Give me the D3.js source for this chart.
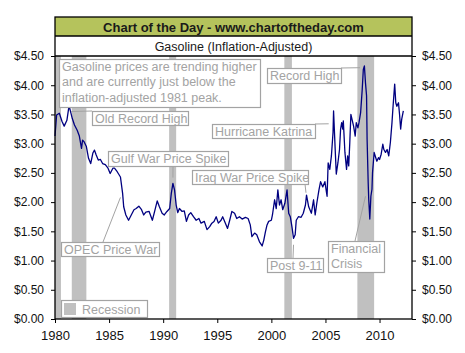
<!DOCTYPE html>
<html>
<head>
<meta charset="utf-8">
<script src="https://cdn.jsdelivr.net/npm/d3@7"></script>
<style>
  body { margin: 0; background: #fff; }
  svg { display: block; font-family: Arial, "Liberation Sans", sans-serif; }
</style>
</head>
<body>
<svg id="chart" width="465" height="353"></svg>
<script>
const years = [
  1980.0, 1980.15, 1980.4, 1980.65, 1980.85, 1981.1, 1981.3, 1981.6, 1981.8, 1982.05,
  1982.25, 1982.45, 1982.55, 1982.7, 1982.9, 1983.1, 1983.3, 1983.5, 1983.65, 1983.8,
  1984.0, 1984.2, 1984.4, 1984.65, 1984.9, 1985.1, 1985.35, 1985.5, 1985.75, 1986.05,
  1986.25, 1986.35, 1986.55, 1986.8, 1987.05, 1987.3, 1987.5, 1987.75, 1988.0, 1988.2,
  1988.4, 1988.7, 1989.0, 1989.25, 1989.45, 1989.65, 1989.9, 1990.1, 1990.35, 1990.6,
  1990.75, 1990.9, 1991.05, 1991.2, 1991.35, 1991.5, 1991.75, 1991.95, 1992.15, 1992.35,
  1992.55, 1992.8, 1993.05, 1993.3, 1993.5, 1993.8, 1994.05, 1994.3, 1994.5, 1994.7,
  1994.9, 1995.1, 1995.35, 1995.5, 1995.75, 1995.95, 1996.15, 1996.35, 1996.6, 1996.8,
  1997.05, 1997.3, 1997.6, 1997.85, 1998.05, 1998.2, 1998.45, 1998.65, 1998.9, 1999.15,
  1999.3, 1999.45, 1999.6, 1999.75, 2000.0, 2000.1, 2000.3, 2000.45, 2000.6, 2000.75,
  2000.9, 2001.05, 2001.25, 2001.45, 2001.6, 2001.75, 2001.9, 2002.05, 2002.2, 2002.3,
  2002.5, 2002.75, 2002.95, 2003.15, 2003.25, 2003.45, 2003.7, 2003.9, 2004.05, 2004.2,
  2004.4, 2004.55, 2004.75, 2004.95, 2005.05, 2005.15, 2005.25, 2005.4, 2005.55, 2005.7,
  2005.75, 2005.9, 2006.0, 2006.15, 2006.3, 2006.4, 2006.5, 2006.6, 2006.65, 2006.8,
  2006.95, 2007.05, 2007.15, 2007.25, 2007.35, 2007.6, 2007.75, 2007.85, 2008.0, 2008.1,
  2008.25, 2008.4, 2008.5, 2008.6, 2008.7, 2008.8, 2008.85, 2008.95, 2009.0, 2009.1,
  2009.2, 2009.3, 2009.35, 2009.5, 2009.6, 2009.75, 2009.9, 2010.0, 2010.15, 2010.3,
  2010.4, 2010.55, 2010.7, 2010.85, 2011.0, 2011.15, 2011.25, 2011.4, 2011.5, 2011.6,
  2011.75, 2011.85, 2011.95, 2012.05, 2012.2
]
const prices = [
  3.13, 3.49, 3.52, 3.38, 3.30, 3.40, 3.65, 3.43, 3.32, 3.23,
  3.13, 2.92, 3.06, 3.03, 2.95, 2.75, 2.66, 2.84, 2.89, 2.81,
  2.72, 2.73, 2.66, 2.64, 2.58, 2.49, 2.58, 2.58, 2.52, 2.43,
  2.15, 1.92, 1.78, 1.69, 1.78, 1.87, 1.89, 1.93, 1.87, 1.78,
  1.83, 1.84, 1.69, 1.87, 2.02, 1.92, 1.81, 1.78, 1.84, 1.89,
  2.15, 2.32, 2.21, 1.95, 1.82, 1.89, 1.84, 1.85, 1.67, 1.78,
  1.82, 1.75, 1.69, 1.72, 1.64, 1.67, 1.53, 1.58, 1.64, 1.67,
  1.75, 1.64, 1.69, 1.75, 1.64, 1.55, 1.69, 1.84, 1.81, 1.72,
  1.75, 1.71, 1.74, 1.72, 1.61, 1.41, 1.47, 1.44, 1.32, 1.25,
  1.35, 1.49, 1.61, 1.67, 1.69, 1.78, 2.04, 1.89, 2.21, 1.95,
  2.04, 1.87, 1.98, 2.21, 1.81, 1.75, 1.58, 1.38, 1.44, 1.69,
  1.75, 1.74, 1.81, 1.95, 2.12, 1.92, 1.81, 2.04, 1.78, 1.98,
  2.21, 2.35, 2.26, 2.35, 2.22, 2.10, 2.67, 2.56, 2.79, 3.19,
  3.56, 2.90, 2.48, 2.67, 2.90, 3.25, 3.36, 3.25, 3.39, 2.85,
  2.56, 2.79, 2.62, 3.02, 3.50, 3.30, 3.13, 3.36, 3.27, 3.36,
  3.53, 3.93, 4.27, 4.33, 4.04, 3.82, 3.07, 2.33, 2.05, 1.71,
  2.10, 2.22, 2.50, 2.85, 2.79, 2.70, 2.76, 2.73, 2.82, 2.99,
  2.90, 2.85, 2.90, 2.79, 3.02, 3.36, 3.64, 4.02, 3.70, 3.64,
  3.70, 3.50, 3.25, 3.42, 3.56
]

// recessions, start / end
const recessionStart = [1980.0, 1981.55, 1990.55, 2001.2, 2007.95]
const recessionEnd = [1980.55, 1982.9, 1991.2, 2001.9, 2009.5]

const priceTicks = [0, 0.5, 1, 1.5, 2, 2.5, 3, 3.5, 4, 4.5]
const yearTicks = [1980, 1985, 1990, 1995, 2000, 2005, 2010]

const title = 'Chart of the Day - www.chartoftheday.com'
const subtitle = 'Gasoline (Inflation-Adjusted)'

// annotation boxes: text, box (px) and leader target in data units
const notes = [
  { lines: ['Gasoline prices are trending higher', 'and are currently just below the', 'inflation-adjusted 1981 peak.'],
    box: [59, 59, 201, 48] },
  { lines: ['Old Record High'], box: [92, 111, 96, 14], from: [92, 111], to: [1981.5, 3.55] },
  { lines: ['Record High'], box: [267, 68, 74, 15], from: [341, 68], to: [2008.2, 4.3] },
  { lines: ['Hurricane Katrina'], box: [212, 124, 103, 14], from: [315, 124], to: [2005.3, 3.34] },
  { lines: ['Gulf War Price Spike'], box: [108, 151, 120, 15], from: [173, 166], to: [1990.9, 2.42] },
  { lines: ['Iraq War Price Spike'], box: [192, 170, 116, 14], from: [305, 184], to: [2003.2, 2.16] },
  { lines: ['OPEC Price War'], box: [61, 242, 98, 14], from: [103, 242], to: [1986.05, 2.08] },
  { lines: ['Post 9-11'], box: [267, 258, 56, 14], from: [293, 258], to: [2002.05, 1.27] },
  { lines: ['Financial', 'Crisis'], box: [328, 241, 56, 31], from: [355, 241], to: [2008.7, 2.1] }
]

const svg = d3.select('#chart')
const plotLeft = 55, plotRight = 412, plotTop = 56, plotBottom = 319
const frameTop = 17, titleBottom = 36

const x = d3.scaleLinear().domain([1980, 2013]).range([plotLeft, plotRight])
const y = d3.scaleLinear().domain([0, 4.5]).range([plotBottom, plotTop])

const grey = '#a3a3a3'

// recession bands
svg.append('g').selectAll('rect')
  .data(recessionStart.map((s, i) => [s, recessionEnd[i]]))
  .enter().append('rect')
  .attr('x', d => x(d[0])).attr('y', plotTop)
  .attr('width', d => x(d[1]) - x(d[0])).attr('height', plotBottom - plotTop)
  .attr('fill', '#c0c0c0')

// price line
const line = d3.line().x((d, i) => x(years[i])).y(d => y(d))
svg.append('path')
  .attr('d', line(prices))
  .attr('fill', 'none')
  .attr('stroke', '#000080')
  .attr('stroke-width', 1.3)
  .attr('stroke-linejoin', 'round')

// annotations
const ng = svg.append('g')
notes.forEach(n => {
  if (n.from) {
    ng.append('line')
      .attr('x1', n.from[0]).attr('y1', n.from[1])
      .attr('x2', x(n.to[0])).attr('y2', y(n.to[1]))
      .attr('stroke', grey).attr('stroke-width', 1)
  }
  const [bx, by, bw, bh] = n.box
  ng.append('rect')
    .attr('x', bx + 0.5).attr('y', by + 0.5)
    .attr('width', bw).attr('height', bh)
    .attr('fill', '#fff').attr('stroke', grey).attr('stroke-width', 1.2)
  n.lines.forEach((t, i) => {
    ng.append('text')
      .attr('x', bx + 3).attr('y', by + 11.5 + i * 15.7)
      .attr('fill', grey)
      .style('font-size', '12.5px')
      .text(t)
  })
})

// legend
svg.append('rect').attr('x', 61.5).attr('y', 300.5).attr('width', 86).attr('height', 17)
  .attr('fill', '#fff').attr('stroke', grey).attr('stroke-width', 1.2)
svg.append('rect').attr('x', 64).attr('y', 303).attr('width', 12).attr('height', 12).attr('fill', '#c0c0c0')
svg.append('text').attr('x', 82).attr('y', 314).attr('fill', grey)
  .style('font-size', '12.5px').text('Recession')

// axes
const fmt = d => '$' + d.toFixed(2)
const axisStyle = g => {
  g.select('.domain').remove()
  g.selectAll('line').attr('stroke', '#000')
  g.selectAll('text').attr('fill', '#111').style('font-size', '12px').style('font-family', 'Arial, "Liberation Sans", sans-serif')
}
svg.append('g').attr('transform', `translate(${plotLeft},0)`)
  .call(d3.axisLeft(y).tickValues(priceTicks).tickFormat(fmt).tickSize(4).tickPadding(7))
  .call(axisStyle)
svg.append('g').attr('transform', `translate(${plotRight},0)`)
  .call(d3.axisRight(y).tickValues(priceTicks).tickFormat(fmt).tickSize(4).tickPadding(6))
  .call(axisStyle)
svg.append('g').attr('transform', `translate(0,${plotBottom})`)
  .call(d3.axisBottom(x).tickValues(yearTicks).tickFormat(d3.format('d')).tickSize(4).tickPadding(8))
  .call(axisStyle)
  .call(g => g.selectAll('text').style('font-size', '13px'))

// frame and title rows
svg.append('rect').attr('x', plotLeft).attr('y', frameTop)
  .attr('width', plotRight - plotLeft).attr('height', titleBottom - frameTop)
  .attr('fill', '#b5c35c')
svg.append('rect').attr('x', plotLeft).attr('y', frameTop)
  .attr('width', plotRight - plotLeft).attr('height', plotBottom - frameTop)
  .attr('fill', 'none').attr('stroke', '#000').attr('stroke-width', 1.3)
svg.append('line').attr('x1', plotLeft).attr('x2', plotRight).attr('y1', titleBottom).attr('y2', titleBottom)
  .attr('stroke', '#000').attr('stroke-width', 1.3)
svg.append('line').attr('x1', plotLeft).attr('x2', plotRight).attr('y1', plotTop).attr('y2', plotTop)
  .attr('stroke', '#000').attr('stroke-width', 1.3)

svg.append('text').attr('x', (plotLeft + plotRight) / 2).attr('y', 31.5)
  .attr('text-anchor', 'middle').attr('fill', '#1a1a1a')
  .style('font-size', '13px').style('font-weight', 'bold')
  .text(title)
svg.append('text').attr('x', (plotLeft + plotRight) / 2).attr('y', 50.5)
  .attr('text-anchor', 'middle').attr('fill', '#1a1a1a')
  .style('font-size', '12.5px')
  .text(subtitle)
</script>
</body>
</html>
